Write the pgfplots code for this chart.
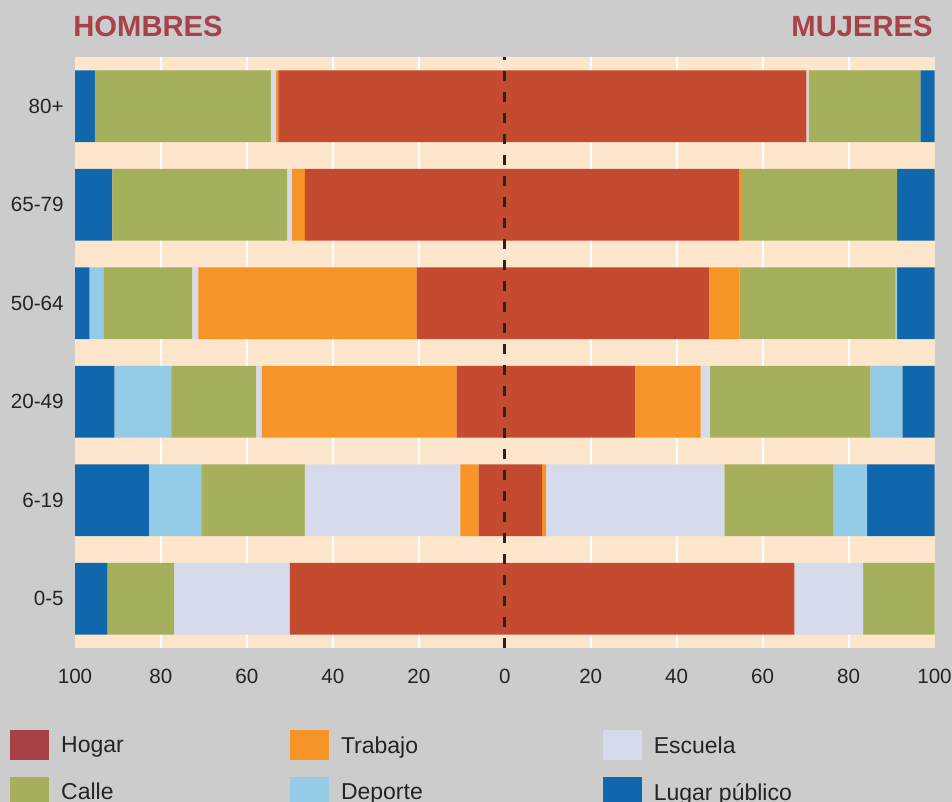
\documentclass[border=0pt]{standalone}
\usepackage{fontspec}
\setmainfont{Liberation Sans}
\usepackage{pgfplots}
\usepackage{pgfplotstable}
\pgfplotsset{compat=1.18}

\definecolor{bggrey}{HTML}{CCCCCC}
\definecolor{plotbg}{HTML}{FDE6CB}
\definecolor{hogar}{HTML}{C44B30}
\definecolor{hogarleg}{HTML}{A84147}
\definecolor{trabajo}{HTML}{F79428}
\definecolor{escuela}{HTML}{D5DBEA}
\definecolor{calle}{HTML}{A5AF5C}
\definecolor{deporte}{HTML}{94CBE6}
\definecolor{lugar}{HTML}{1067AB}
\definecolor{txt}{HTML}{262324}
\definecolor{titulo}{HTML}{A8424A}

% y: 0 = 0-5 ... 5 = 80+
\pgfplotstableread{
y hogar trabajo escuela calle deporte lugar
0 -50.0  0.0  -26.9 -15.5   0.0  -7.6
1  -6.1 -4.2  -36.2 -24.1 -12.1 -17.3
2 -11.2 -45.3  -1.3 -19.8 -13.2  -9.2
3 -20.5 -50.8  -1.4 -20.6  -3.3  -3.4
4 -46.5 -3.0   -1.1 -40.7   0.0  -8.7
5 -52.7 -0.5   -1.2 -41.0   0.0  -4.6
}\hombres

\pgfplotstableread{
y hogar trabajo escuela calle deporte lugar
0 67.4  0.0 16.0 16.6 0.0  0.0
1  8.7  0.9 41.5 25.3 7.9 15.7
2 30.3 15.3  2.1 37.4 7.4  7.5
3 47.5  7.1  0.0 36.3 0.4  8.7
4 54.6  0.4  0.0 36.3 0.0  8.7
5 70.2  0.0  0.5 26.0 0.0  3.3
}\mujeres

\pgfplotsset{
  piramide/.style={
    at={(37.5pt,77pt)}, anchor=south west,
    scale only axis, width=429.75pt, height=295.5pt,
    xmin=-100, xmax=100, ymin=-0.5, ymax=5.5,
  },
  barras/.style={
    xbar stacked, bar width=0.73,
    every axis plot/.append style={draw=none},
  },
}

\begin{document}
\begin{tikzpicture}[x=0.5pt,y=0.5pt]
\fill[bggrey] (0,0) rectangle (952,802);
\path[use as bounding box] (0,0) rectangle (952,802);

\node[anchor=base west, text=titulo, font=\fontsize{14.6}{16}\selectfont\bfseries, inner sep=0pt] at (73,765) {HOMBRES};
\node[anchor=base east, text=titulo, font=\fontsize{14.6}{16}\selectfont\bfseries, inner sep=0pt] at (933,765) {MUJERES};

% hombres, fondo, rejilla y ejes
\begin{axis}[
  piramide, barras,
  axis background/.style={fill=plotbg},
  axis line style={draw=none},
  major tick length=0pt,
  xtick={-100,-80,...,100},
  xticklabels={100,80,60,40,20,0,20,40,60,80,100},
  extra x ticks={-80,-60,-40,-20,20,40,60,80},
  extra x tick labels={},
  extra x tick style={grid=major},
  grid style={white, line width=1pt},
  ytick={0,...,5},
  yticklabels={0-5,6-19,20-49,50-64,65-79,80+},
  tick label style={font=\fontsize{10.3}{12}\selectfont, text=txt},
  xticklabel style={anchor=center, yshift=-14pt},
  yticklabel style={anchor=east, inner sep=0pt, xshift=-5.5pt},
  /pgf/number format/assume math mode=true,
]
\addplot[fill=hogar]   table[x=hogar,   y=y] {\hombres};
\addplot[fill=trabajo] table[x=trabajo, y=y] {\hombres};
\addplot[fill=escuela] table[x=escuela, y=y] {\hombres};
\addplot[fill=calle]   table[x=calle,   y=y] {\hombres};
\addplot[fill=deporte] table[x=deporte, y=y] {\hombres};
\addplot[fill=lugar]   table[x=lugar,   y=y] {\hombres};
\end{axis}

% mujeres
\begin{axis}[piramide, barras, hide axis]
\addplot[fill=hogar]   table[x=hogar,   y=y] {\mujeres};
\addplot[fill=trabajo] table[x=trabajo, y=y] {\mujeres};
\addplot[fill=escuela] table[x=escuela, y=y] {\mujeres};
\addplot[fill=calle]   table[x=calle,   y=y] {\mujeres};
\addplot[fill=deporte] table[x=deporte, y=y] {\mujeres};
\addplot[fill=lugar]   table[x=lugar,   y=y] {\mujeres};
\end{axis}

% linea central y leyenda
\begin{axis}[
  piramide, hide axis,
  legend columns=3,
  legend cell align=left,
  legend style={
    at={(axis description cs:-0.0756,-0.1388)}, anchor=north west,
    draw=none, fill=none, inner sep=0pt,
    font=\fontsize{11.5}{13}\selectfont, text=txt,
    row sep=8.5pt,
    nodes={inner sep=0pt},
    /tikz/every odd column/.style={column sep=6pt},
  },
  legend image code/.code={\fill[#1] (0pt,-6.75pt) rectangle (19pt,7.75pt);},
]
\draw[txt, line width=1.5pt, dash pattern=on 5pt off 5.5pt]
  (axis cs:0,-0.5) -- (axis cs:0,5.5);
\addlegendimage{hogarleg}
\addlegendentry{\makebox[114.5pt][l]{Hogar}}
\addlegendimage{trabajo}
\addlegendentry{\makebox[131pt][l]{Trabajo}}
\addlegendimage{escuela}
\addlegendentry{Escuela}
\addlegendimage{calle}
\addlegendentry{Calle}
\addlegendimage{deporte}
\addlegendentry{Deporte}
\addlegendimage{lugar}
\addlegendentry{Lugar público}
\end{axis}
\end{tikzpicture}
\end{document}
